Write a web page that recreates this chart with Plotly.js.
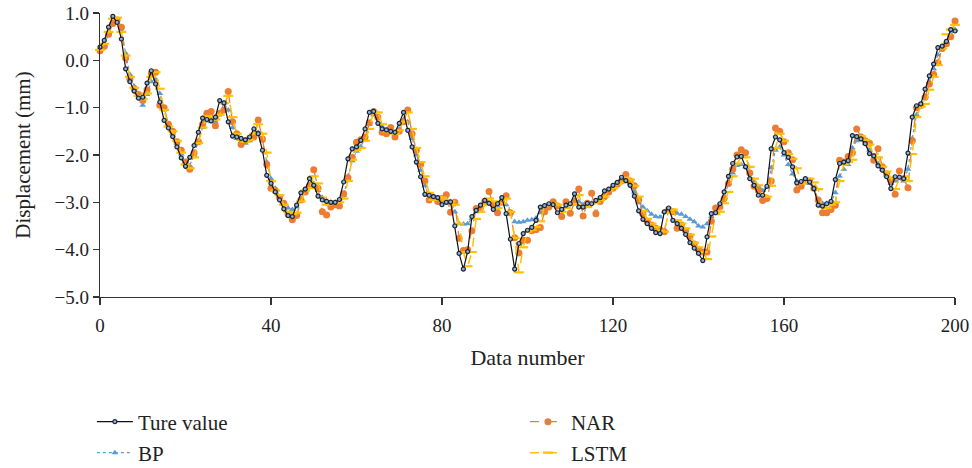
<!DOCTYPE html>
<html>
<head>
<meta charset="utf-8">
<script src="https://cdn.plot.ly/plotly-3.0.1.min.js"></script>
<style>html,body{margin:0;padding:0;background:#fff;}#chart{width:972px;height:468px;}</style>
</head>
<body>
<div id="chart"></div>
<script>
const seriesNames = ["Ture value", "BP", "NAR", "LSTM"];
const xTicks = [0, 40, 80, 120, 160, 200];
const yTicks = [1, 0, -1, -2, -3, -4, -5];

const trueValue = [0.28,0.42,0.70,0.93,0.80,0.45,-0.18,-0.45,-0.65,-0.80,
-0.78,-0.48,-0.22,-0.50,-0.88,-1.27,-1.43,-1.61,-1.83,-2.06,
-2.24,-2.05,-1.80,-1.52,-1.22,-1.25,-1.28,-1.20,-0.85,-0.90,
-1.30,-1.60,-1.62,-1.65,-1.68,-1.62,-1.45,-1.55,-1.90,-2.43,
-2.60,-2.78,-2.95,-3.14,-3.28,-3.30,-3.06,-2.80,-2.72,-2.50,
-2.64,-2.87,-2.95,-2.98,-3.00,-3.00,-2.94,-2.57,-2.08,-1.87,
-1.83,-1.69,-1.45,-1.10,-1.08,-1.33,-1.45,-1.47,-1.50,-1.52,
-1.33,-1.10,-1.48,-1.83,-2.15,-2.46,-2.83,-2.85,-2.88,-2.90,
-3.05,-3.00,-2.99,-3.50,-4.08,-4.41,-4.04,-3.30,-3.17,-3.06,
-2.96,-3.02,-3.15,-3.03,-2.90,-3.24,-3.78,-4.41,-3.87,-3.66,
-3.59,-3.53,-3.38,-3.10,-3.07,-3.03,-3.05,-3.22,-3.15,-3.06,
-3.03,-2.82,-3.10,-3.10,-3.02,-3.03,-2.96,-2.90,-2.76,-2.72,
-2.64,-2.58,-2.47,-2.54,-2.64,-2.87,-3.18,-3.36,-3.45,-3.55,
-3.64,-3.66,-3.20,-3.12,-3.38,-3.45,-3.55,-3.68,-3.85,-3.97,
-4.08,-4.23,-3.73,-3.24,-3.22,-3.03,-2.78,-2.45,-2.18,-2.04,
-2.03,-2.25,-2.50,-2.64,-2.85,-2.85,-2.66,-1.87,-1.62,-1.68,
-1.95,-2.05,-2.25,-2.59,-2.56,-2.50,-2.57,-2.71,-3.06,-3.08,
-3.03,-2.98,-2.52,-2.18,-2.15,-2.12,-1.59,-1.61,-1.66,-1.76,
-1.97,-2.02,-2.23,-2.32,-2.46,-2.71,-2.46,-2.47,-2.50,-1.96,
-1.20,-0.96,-0.92,-0.61,-0.33,-0.08,0.27,0.30,0.40,0.65,
0.62];

const bpValue = [0.25,0.35,0.55,0.78,0.80,0.62,0.15,-0.30,-0.55,-0.78,
-0.95,-0.72,-0.45,-0.40,-0.70,-1.05,-1.35,-1.55,-1.75,-1.98,
-2.20,-2.22,-2.00,-1.72,-1.42,-1.28,-1.30,-1.30,-1.12,-0.90,
-1.05,-1.42,-1.65,-1.72,-1.75,-1.70,-1.58,-1.52,-1.70,-2.15,
-2.50,-2.70,-2.88,-3.02,-3.12,-3.15,-3.10,-2.92,-2.78,-2.68,
-2.60,-2.75,-2.90,-2.97,-3.00,-3.00,-2.98,-2.85,-2.45,-2.12,
-1.92,-1.82,-1.65,-1.35,-1.15,-1.22,-1.40,-1.48,-1.50,-1.55,
-1.45,-1.25,-1.30,-1.65,-2.00,-2.32,-2.65,-2.85,-2.90,-2.92,
-2.95,-3.00,-3.02,-3.20,-3.45,-3.46,-3.45,-3.34,-3.20,-3.10,
-3.02,-3.00,-3.05,-3.08,-3.00,-3.05,-3.22,-3.41,-3.42,-3.41,
-3.38,-3.37,-3.33,-3.22,-3.12,-3.08,-3.05,-3.10,-3.15,-3.10,
-3.05,-2.95,-2.98,-3.05,-3.05,-3.02,-2.98,-2.92,-2.85,-2.76,
-2.68,-2.62,-2.55,-2.52,-2.60,-2.78,-3.01,-3.10,-3.18,-3.25,
-3.30,-3.31,-3.20,-3.17,-3.22,-3.23,-3.25,-3.30,-3.36,-3.41,
-3.50,-3.52,-3.45,-3.30,-3.18,-3.08,-2.90,-2.60,-2.38,-2.22,
-2.20,-2.25,-2.38,-2.55,-2.66,-2.75,-2.68,-2.27,-1.90,-1.83,
-2.00,-2.20,-2.40,-2.55,-2.62,-2.55,-2.60,-2.72,-2.95,-3.02,
-3.02,-3.00,-2.80,-2.45,-2.30,-2.20,-1.85,-1.70,-1.68,-1.75,
-1.90,-2.02,-2.18,-2.30,-2.42,-2.60,-2.55,-2.50,-2.55,-2.30,
-1.65,-1.15,-0.98,-0.75,-0.45,-0.18,0.12,0.28,0.38,0.55,
0.65];

const narValue = [0.20,0.30,0.55,0.78,0.85,0.70,0.05,-0.40,-0.60,-0.72,
-0.85,-0.62,-0.28,-0.25,-0.95,-1.00,-1.35,-1.50,-1.72,-1.90,
-2.15,-2.30,-1.95,-1.72,-1.35,-1.12,-1.08,-1.38,-1.12,-1.05,
-0.66,-1.30,-1.55,-1.78,-1.70,-1.65,-1.62,-1.26,-1.66,-2.20,
-2.70,-2.75,-2.90,-3.02,-3.25,-3.37,-3.28,-2.95,-2.78,-2.65,
-2.31,-2.70,-3.20,-3.27,-3.10,-3.05,-3.08,-2.82,-2.48,-2.05,
-1.73,-1.68,-1.62,-1.32,-1.08,-1.20,-1.52,-1.55,-1.42,-1.62,
-1.50,-1.30,-1.05,-1.55,-1.90,-2.20,-2.55,-2.95,-2.90,-2.98,
-2.92,-2.84,-3.21,-3.00,-3.76,-4.02,-4.00,-3.60,-3.13,-3.12,
-2.98,-2.77,-3.05,-3.22,-3.00,-2.86,-3.22,-3.75,-4.07,-3.80,
-3.80,-3.60,-3.58,-3.53,-3.20,-3.10,-2.99,-3.08,-3.30,-2.99,
-3.23,-3.00,-2.72,-3.29,-3.02,-2.81,-3.24,-2.98,-2.88,-2.78,
-2.70,-2.62,-2.55,-2.41,-2.55,-2.65,-2.95,-3.25,-3.40,-3.48,
-3.55,-3.58,-3.62,-3.15,-3.20,-3.55,-3.48,-3.60,-3.72,-3.88,
-4.00,-4.05,-4.05,-3.40,-3.12,-3.10,-2.92,-2.60,-2.30,-2.00,
-1.89,-1.95,-2.38,-2.66,-2.75,-2.96,-2.92,-2.55,-1.43,-1.50,
-1.72,-1.95,-2.10,-2.74,-2.66,-2.55,-2.55,-2.70,-2.95,-3.22,
-3.22,-3.15,-3.06,-2.11,-2.15,-2.03,-1.95,-1.45,-1.62,-1.70,
-1.75,-2.11,-1.87,-2.25,-2.40,-2.55,-2.83,-2.34,-2.50,-2.69,
-1.70,-1.00,-0.95,-0.78,-0.50,-0.30,-0.05,0.25,0.35,0.50,
0.83];

const lstmValue = [0.22,0.35,0.60,0.88,0.90,0.60,0.10,-0.35,-0.58,-0.75,
-0.82,-0.70,-0.35,-0.25,-0.60,-1.05,-1.40,-1.50,-1.70,-1.95,
-2.20,-2.28,-2.05,-1.75,-1.42,-1.18,-1.22,-1.25,-1.15,-0.90,
-0.75,-1.20,-1.55,-1.68,-1.72,-1.68,-1.55,-1.35,-1.55,-1.95,
-2.55,-2.75,-2.85,-3.05,-3.20,-3.25,-3.22,-2.98,-2.75,-2.70,
-2.45,-2.60,-2.90,-3.05,-3.02,-3.00,-3.00,-2.92,-2.55,-2.10,
-1.90,-1.85,-1.70,-1.45,-1.08,-1.10,-1.35,-1.50,-1.52,-1.55,
-1.48,-1.30,-1.10,-1.45,-1.85,-2.15,-2.45,-2.80,-2.95,-2.88,
-2.90,-2.95,-2.98,-3.05,-3.45,-4.05,-4.35,-4.05,-3.35,-3.20,
-3.05,-2.92,-2.98,-3.12,-3.02,-2.92,-3.20,-3.75,-4.48,-3.95,
-3.62,-3.58,-3.52,-3.40,-3.08,-3.05,-3.02,-3.05,-3.20,-3.12,
-3.05,-3.03,-2.85,-3.08,-3.10,-3.02,-3.00,-2.95,-2.88,-2.75,
-2.70,-2.62,-2.58,-2.48,-2.52,-2.65,-2.88,-3.18,-3.35,-3.45,
-3.52,-3.60,-3.62,-3.22,-3.15,-3.38,-3.45,-3.55,-3.68,-3.85,
-3.95,-4.05,-4.20,-3.72,-3.25,-3.20,-3.02,-2.78,-2.45,-2.18,
-2.05,-2.05,-2.25,-2.50,-2.64,-2.85,-2.88,-2.65,-1.85,-1.55,
-1.70,-1.98,-2.08,-2.28,-2.60,-2.58,-2.50,-2.58,-2.72,-3.10,
-3.12,-3.05,-3.00,-2.55,-2.20,-2.15,-2.10,-1.60,-1.60,-1.68,
-1.78,-1.98,-2.05,-2.25,-2.35,-2.48,-2.72,-2.50,-2.45,-2.55,
-1.98,-1.20,-0.98,-0.92,-0.62,-0.35,-0.10,0.25,0.55,0.65,
0.75];

const dataNumber = trueValue.map((_, i) => i);
const FONT = "Liberation Serif, Times New Roman, serif";

const traces = [
  {
    x: dataNumber, y: bpValue, name: seriesNames[1], legend: "legend2",
    type: "scatter", mode: "lines+markers", cliponaxis: false,
    line: {color: "#5b9bd5", width: 1.2, dash: "dot"},
    marker: {symbol: "triangle-up", size: 6, color: "#5b9bd5"}
  },
  {
    x: dataNumber, y: narValue, name: seriesNames[2], legend: "legend3",
    type: "scatter", mode: "lines+markers", cliponaxis: false,
    line: {color: "#ed7d31", width: 1.3, dash: "dash"},
    marker: {symbol: "circle", size: 7, color: "#ed7d31"}
  },
  {
    x: dataNumber, y: lstmValue, name: seriesNames[3], legend: "legend4",
    type: "scatter", mode: "lines+markers", cliponaxis: false,
    line: {color: "#ffc000", width: 1.5, dash: "dash"},
    marker: {symbol: "line-ew", size: 7, color: "#ffc000", line: {color: "#ffc000", width: 2.2}}
  },
  {
    x: dataNumber, y: trueValue, name: seriesNames[0], legend: "legend",
    type: "scatter", mode: "lines+markers", cliponaxis: false,
    line: {color: "#111111", width: 1.2},
    marker: {symbol: "circle", size: 4, color: "#8fb4dc", line: {color: "#1a2233", width: 1.2}}
  }
];

const legendBase = {
  font: {family: FONT, size: 21, color: "#222"},
  bgcolor: "rgba(0,0,0,0)", borderwidth: 0,
  xref: "paper", yref: "container",
  xanchor: "left", yanchor: "middle", orientation: "v",
  itemwidth: 36
};

const layout = {
  width: 972, height: 468,
  margin: {l: 100, r: 17, t: 13, b: 171},
  paper_bgcolor: "#ffffff", plot_bgcolor: "#ffffff",
  font: {family: FONT, color: "#222"},
  showlegend: true,
  xaxis: {
    range: [0, 200], tickvals: xTicks, ticktext: xTicks.map(String),
    showline: true, linecolor: "#333", linewidth: 1.3,
    ticks: "outside", ticklen: 7, tickcolor: "#333", tickwidth: 1.2,
    ticklabelstandoff: 4,
    showgrid: false, zeroline: false,
    tickfont: {family: FONT, size: 19, color: "#222"},
    title: {text: "Data number", font: {family: FONT, size: 22, color: "#222"}, standoff: 14}
  },
  yaxis: {
    range: [-5, 1], tickvals: yTicks, tickformat: ".1f",
    showline: true, linecolor: "#333", linewidth: 1.3,
    ticks: "outside", ticklen: 6, tickcolor: "#333", tickwidth: 1.2,
    showgrid: false, zeroline: false,
    tickfont: {family: FONT, size: 19, color: "#222"},
    title: {text: "Displacement (mm)", font: {family: FONT, size: 21, color: "#222"}, standoff: 18}
  },
  legend:  Object.assign({}, legendBase, {x: -0.0095, y: 0.0983}),
  legend2: Object.assign({}, legendBase, {x: -0.0095, y: 0.0321}),
  legend3: Object.assign({}, legendBase, {x: 0.4970, y: 0.0983}),
  legend4: Object.assign({}, legendBase, {x: 0.4970, y: 0.0321})
};

Plotly.newPlot("chart", traces, layout, {displayModeBar: false, staticPlot: true});
</script>
</body>
</html>
